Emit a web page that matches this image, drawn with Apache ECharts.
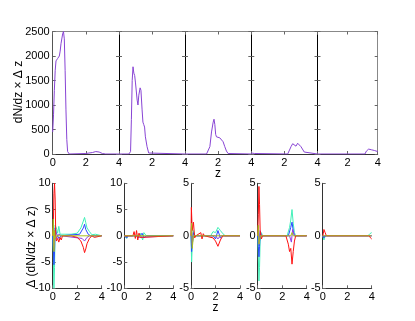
<!DOCTYPE html>
<html>
<head>
<meta charset="utf-8">
<script src="https://cdn.jsdelivr.net/npm/echarts@6/dist/echarts.min.js"></script>
<style>
html, body { margin: 0; padding: 0; background: #fff; }
#chart { width: 415px; height: 321px; }
</style>
</head>
<body>
<div id="chart"></div>
<script>
// x ticks and y ticks
const zTicks = [0, 2, 4]
const topYTicks = [0, 500, 1000, 1500, 2000, 2500]

// top row: dN/dz x dz for the five bins, [z, value]
const dndz1 = [[0,450],[0.05,800],[0.1,1300],[0.15,1700],[0.2,1900],[0.3,1950],[0.4,2000],[0.45,2100],[0.5,2250],[0.6,2450],[0.65,2500],[0.7,2350],[0.75,1700],[0.8,900],[0.85,300],[0.9,50],[0.95,10],[1.0,0],[2.0,10],[2.4,30],[2.6,50],[2.7,55],[2.8,40],[3.0,10],[3.2,0],[4,0]]
const dndz2 = [[0,0],[0.6,0],[0.7,50],[0.75,700],[0.8,1500],[0.85,1780],[0.9,1650],[0.95,1600],[1.0,1450],[1.1,1100],[1.15,1000],[1.2,1200],[1.28,1350],[1.33,1300],[1.4,900],[1.45,650],[1.5,600],[1.55,550],[1.6,350],[1.7,150],[1.8,20],[1.85,0],[4,0]]
const dndz3 = [[0,0],[1.3,0],[1.4,30],[1.5,150],[1.6,450],[1.7,650],[1.75,710],[1.8,600],[1.85,400],[1.9,350],[2.0,340],[2.1,330],[2.2,300],[2.3,250],[2.4,150],[2.5,60],[2.6,10],[2.7,0],[4,0]]
const dndz4 = [[0,20],[0.1,35],[0.2,10],[0.3,0],[2.2,0],[2.3,30],[2.4,150],[2.5,210],[2.6,180],[2.7,160],[2.8,220],[2.85,230],[2.9,180],[3.0,150],[3.1,120],[3.2,40],[3.3,0],[4,0]]
const dndz5 = [[0,0],[3.15,0],[3.25,60],[3.3,95],[3.4,100],[3.5,95],[3.6,85],[3.7,80],[3.8,70],[3.9,60],[4.0,50]]

// bottom row: differences, [z, value]
const d1Aqua = [[0,0],[0.05,-3],[0.1,-10],[0.15,-6],[0.2,2],[0.3,1.5],[0.4,0.5],[0.5,1.8],[0.6,0.3],[0.7,0],[1.5,0.3],[2.0,0.5],[2.3,1.5],[2.5,2.8],[2.6,3.5],[2.7,2.5],[2.8,1.5],[3.0,0.8],[3.2,0.2],[3.5,0.3],[4,0]]
const d1Blue = [[0,0],[0.05,-2],[0.1,-5.5],[0.15,-3],[0.2,1.5],[0.3,0.5],[0.5,-0.5],[0.7,0],[2.2,0.3],[2.5,1.5],[2.6,2.2],[2.7,1.2],[2.9,0.3],[3.1,0],[4,0]]
const d1Violet = [[0,0],[0.05,1.5],[0.1,-2],[0.15,1],[0.3,-0.5],[0.5,0.3],[0.7,0],[2.4,-0.5],[2.6,-1],[2.8,-0.3],[3,0],[4,0]]
const d1Red = [[0,0],[0.05,2],[0.1,8],[0.15,10],[0.2,7],[0.25,0],[0.3,-1],[0.4,-0.5],[0.5,-1.2],[0.6,-0.3],[0.7,-0.8],[0.8,0],[1.5,0],[2.0,-0.3],[2.3,-1],[2.5,-2.2],[2.6,-3.2],[2.7,-2.5],[2.8,-1.5],[3.0,-0.5],[3.2,0],[3.4,-0.3],[3.5,0],[4,0]]
const d1Olive = [[0,0],[0.05,3.2],[0.1,-3],[0.15,1],[0.2,-0.5],[0.3,0],[4,0]]

const d2Aqua = [[0,0],[0.2,-0.5],[0.3,0],[1.1,0],[1.3,0.5],[1.5,-0.8],[1.6,0.6],[1.8,0],[4,0]]
const d2Blue = [[0,0],[0.2,-0.4],[0.3,0],[1.3,0],[1.45,0.5],[1.6,-0.4],[1.8,0],[4,0]]
const d2Violet = [[0,0],[0.9,0],[1.0,0.3],[1.1,-0.3],[1.2,0],[4,0]]
const d2Red = [[0,0],[0.7,0],[0.8,0.8],[0.9,-0.5],[1.0,1],[1.1,-0.8],[1.2,0.5],[1.3,-0.3],[1.4,0],[4,0]]
const d2Olive = [[0,0],[4,0]]

const d3Aqua = [[0,0],[0.05,-2.5],[0.1,-1],[0.2,0.5],[0.3,0],[1.6,0],[1.8,0.4],[2.0,0.3],[2.2,0.8],[2.4,0.5],[2.6,0.2],[2.8,0],[4,0]]
const d3Blue = [[0,0],[0.05,-1.5],[0.1,-0.5],[0.2,0.3],[0.3,0],[1.8,0],[2.0,-0.3],[2.2,0.5],[2.4,-0.2],[2.6,0],[4,0]]
const d3Violet = [[0,0],[0.05,1],[0.1,-0.8],[0.2,0],[2.0,0],[2.2,-0.3],[2.4,0],[4,0]]
const d3Red = [[0,0],[0.03,2.7],[0.1,0.5],[0.2,1.3],[0.3,-0.2],[0.4,0],[0.8,0.3],[0.9,-0.3],[1.0,0.2],[1.1,0],[1.8,-0.2],[2.0,-0.5],[2.2,-1.0],[2.4,-0.4],[2.6,0],[4,0]]
const d3Olive = [[0,0],[0.05,1.2],[0.1,-1.2],[0.2,0],[4,0]]

const d4Aqua = [[0,0],[0.05,-2],[0.1,-4.3],[0.15,-3],[0.2,-0.5],[0.3,0.3],[0.4,0],[2.4,0],[2.6,0.8],[2.7,1.5],[2.8,2.5],[2.9,1.2],[3.0,0.3],[3.1,0],[4,0]]
const d4Blue = [[0,0],[0.05,-1],[0.1,-2],[0.15,-1],[0.2,0.3],[0.3,0],[2.5,0],[2.7,0.8],[2.8,1.3],[2.9,0.5],[3,0],[4,0]]
const d4Violet = [[0,0],[0.05,0.8],[0.1,-0.8],[0.2,0.5],[0.3,0],[2.6,0],[2.75,-0.6],[2.85,0.6],[3,0],[4,0]]
const d4Red = [[0,0],[0.05,2],[0.1,4.7],[0.15,3],[0.2,0.5],[0.3,-0.3],[0.4,0],[2.3,0],[2.5,-0.8],[2.6,-1.5],[2.7,-1.2],[2.8,-2.7],[2.9,-1.5],[3.0,-0.5],[3.1,0],[4,0]]
const d4Olive = [[0,0],[0.05,1],[0.1,-0.8],[0.2,0],[2.7,0],[2.8,0.3],[2.9,0],[4,0]]

const d5Aqua = [[0,0],[0.05,-0.2],[0.1,-0.4],[0.2,0],[3.7,0],[3.85,0.2],[4,0.3]]
const d5Blue = [[0,0],[0.1,-0.2],[0.2,0],[3.8,0],[3.9,0.15],[4,0]]
const d5Violet = [[0,0],[4,0]]
const d5Red = [[0,0],[0.05,0.2],[0.1,0.6],[0.2,0.3],[0.3,0],[3.8,0],[3.9,-0.2],[4,-0.3]]
const d5Olive = [[0,0],[4,0]]

const bottomRanges = [10, 10, 5, 5, 5]

const topPanels = [dndz1, dndz2, dndz3, dndz4, dndz5]
const bottomPanels = [
    [d1Aqua, d1Blue, d1Violet, d1Red, d1Olive],
    [d2Aqua, d2Blue, d2Violet, d2Red, d2Olive],
    [d3Aqua, d3Blue, d3Violet, d3Red, d3Olive],
    [d4Aqua, d4Blue, d4Violet, d4Red, d4Olive],
    [d5Aqua, d5Blue, d5Violet, d5Red, d5Olive]
]
const bottomColors = ['#40f0b8', '#2848ff', '#9040e0', '#ff1010', '#a8c020']

const FONT = 'Liberation Sans, Arial, sans-serif'
const topEdges = [52.7, 119, 185, 251.3, 317.5, 377.7]
const bottomLefts = [52.7, 124.3, 191, 257.7, 322.7]

const grid = []
const xAxis = []
const yAxis = []
const series = []

const label = { fontFamily: FONT, fontSize: 11, color: '#000', formatter: v => String(v) }
const tick = { show: true, inside: true, length: 3, lineStyle: { color: '#666' } }

topPanels.forEach((data, i) => {
    grid.push({ left: topEdges[i], top: 31.5, width: topEdges[i + 1] - topEdges[i], height: 122.5 })
    const gi = grid.length - 1
    // bottom x axis
    xAxis.push({
        type: 'value', gridIndex: gi, min: 0, max: 4, interval: 2,
        axisLine: { onZero: false, lineStyle: { color: '#333', width: 1 } },
        axisTick: tick,
        axisLabel: { ...label, margin: 3, showMinLabel: i === 0 },
        splitLine: { show: false }
    })
    const xi = xAxis.length - 1
    // top border
    xAxis.push({
        type: 'value', gridIndex: gi, position: 'top', min: 0, max: 4, interval: 2,
        axisLine: { onZero: false, lineStyle: { color: '#888', width: 1 } },
        axisTick: tick,
        axisLabel: { show: false }, splitLine: { show: false }
    })
    yAxis.push({
        type: 'value', gridIndex: gi, min: 0, max: 2500, interval: 500,
        axisLine: { show: true, onZero: false, lineStyle: { color: i === 0 ? '#555' : '#000', width: 1 } },
        axisTick: tick,
        axisLabel: { ...label, margin: 3, show: i === 0 },
        splitLine: { show: false }
    })
    const yi = yAxis.length - 1
    yAxis.push({
        type: 'value', gridIndex: gi, position: 'right', min: 0, max: 2500, interval: 500,
        axisLine: { show: true, onZero: false, lineStyle: { color: i === 4 ? '#888' : '#000', width: 1 } },
        axisTick: tick,
        axisLabel: { show: false }, splitLine: { show: false }
    })
    series.push({
        type: 'line', xAxisIndex: xi, yAxisIndex: yi, data,
        symbol: 'none', lineStyle: { color: '#8844d4', width: 1 }
    })
})

bottomPanels.forEach((lines, i) => {
    grid.push({ left: bottomLefts[i], top: 183.3, width: 49, height: 105 })
    const gi = grid.length - 1
    const r = bottomRanges[i]
    xAxis.push({
        type: 'value', gridIndex: gi, min: 0, max: 4, interval: 2,
        axisLine: { onZero: false, lineStyle: { color: '#333', width: 1 } },
        axisTick: tick,
        axisLabel: { ...label, margin: 3 },
        splitLine: { show: false }
    })
    const xi = xAxis.length - 1
    yAxis.push({
        type: 'value', gridIndex: gi, min: -r, max: r, interval: 5,
        axisLine: { show: true, onZero: false, lineStyle: { color: '#333', width: 1 } },
        axisTick: tick,
        axisLabel: { ...label, margin: 2 },
        splitLine: { show: false }
    })
    const yi = yAxis.length - 1
    lines.forEach((data, k) => {
        series.push({
            type: 'line', xAxisIndex: xi, yAxisIndex: yi, data,
            symbol: 'none', lineStyle: { color: bottomColors[k], width: 1 }
        })
    })
})

const chart = echarts.init(document.getElementById('chart'))
chart.setOption({
    animation: false,
    backgroundColor: '#fff',
    grid, xAxis, yAxis, series,
    graphic: [
        { type: 'text', x: 18.5, y: 92, rotation: Math.PI / 2,
          style: { text: 'dN/dz × Δ z', font: '12px ' + FONT, fill: '#000', align: 'center', verticalAlign: 'middle' } },
        { type: 'text', x: 218, y: 174,
          style: { text: 'z', font: '12px ' + FONT, fill: '#000', align: 'center', verticalAlign: 'middle' } },
        { type: 'text', x: 32, y: 247, rotation: Math.PI / 2,
          style: { text: 'Δ (dN/dz × Δ z)', font: '12px ' + FONT, fill: '#000', align: 'center', verticalAlign: 'middle' } },
        { type: 'text', x: 215.5, y: 308,
          style: { text: 'z', font: '12px ' + FONT, fill: '#000', align: 'center', verticalAlign: 'middle' } }
    ]
})
</script>
</body>
</html>
